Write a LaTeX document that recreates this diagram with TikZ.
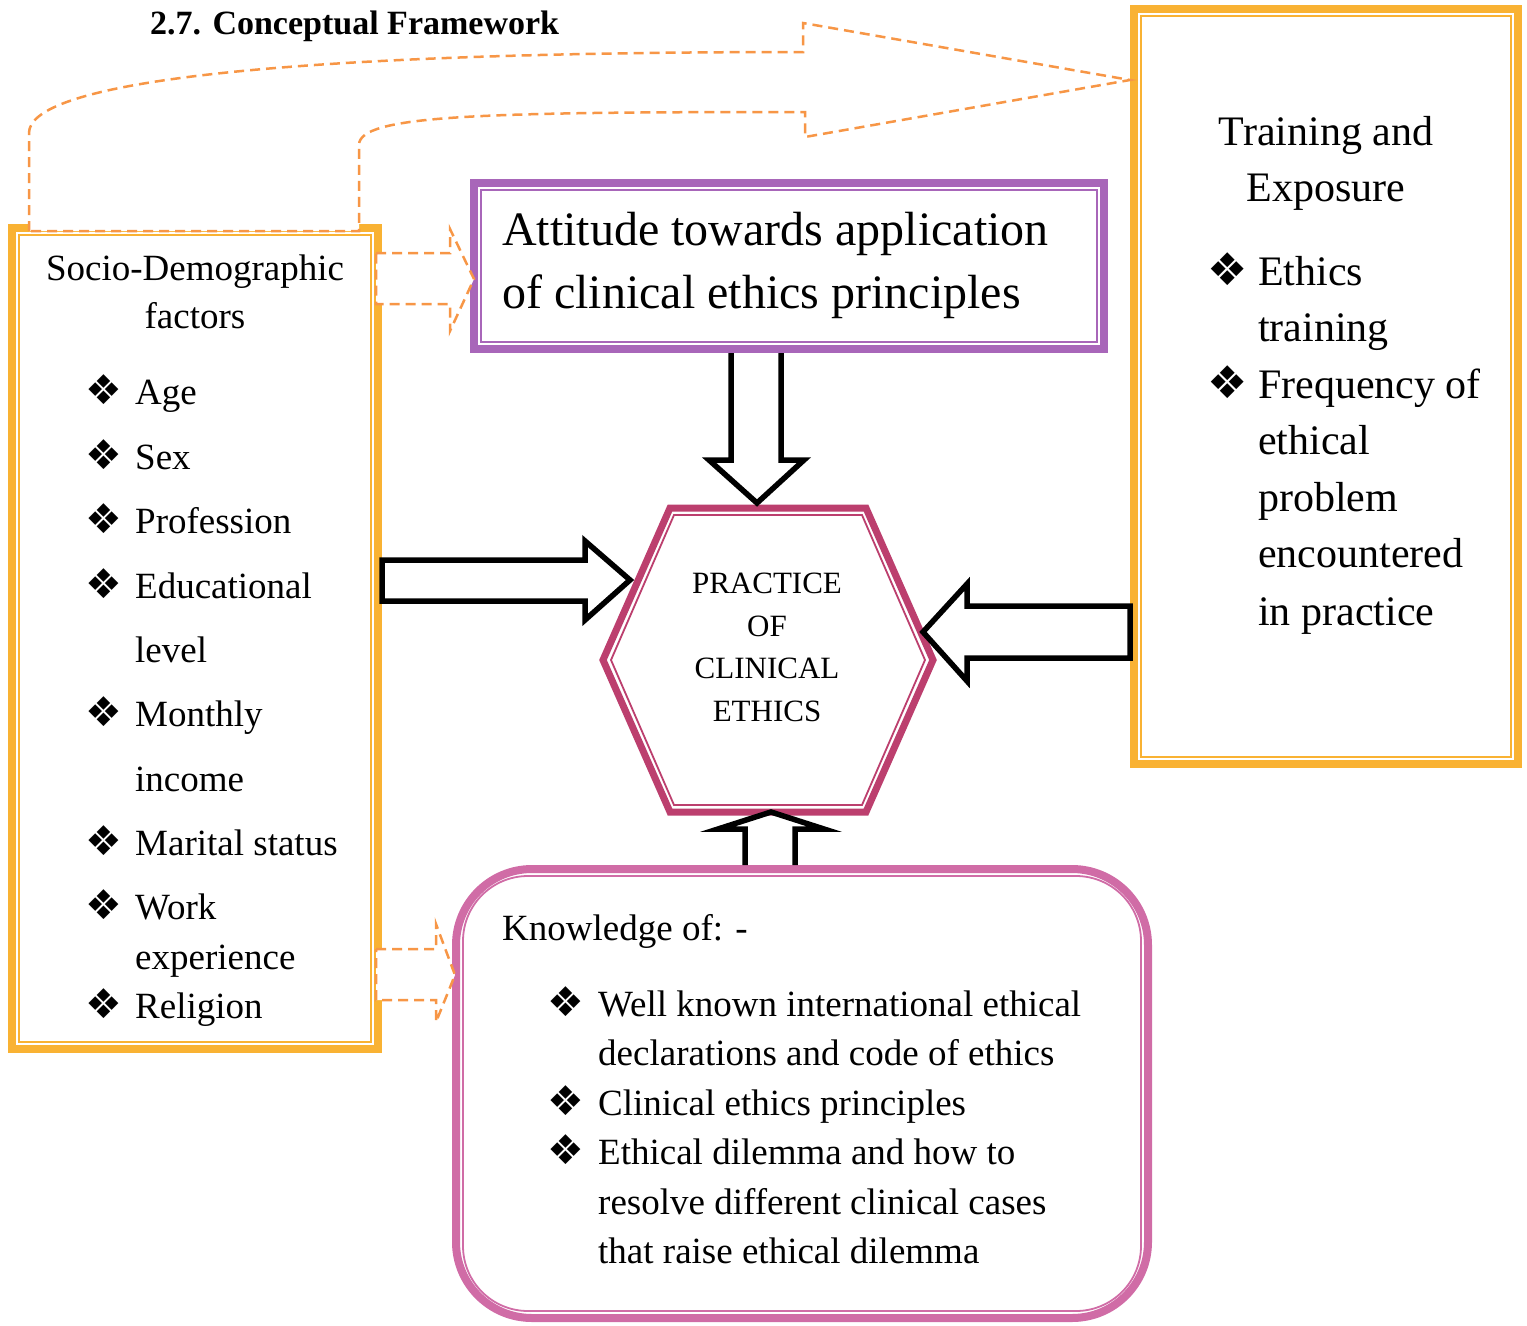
\documentclass[tikz,border=0pt]{standalone}
\usepackage{fontspec}
\setmainfont{Liberation Serif}
\newfontfamily\symfont{DejaVu Sans}
\usepackage{tikz}
\usetikzlibrary{calc}
\definecolor{boxorange}{HTML}{F9B233}
\definecolor{dashorange}{HTML}{F79646}
\definecolor{attpurple}{HTML}{A866B9}
\definecolor{hexrose}{HTML}{BC3F6E}
\definecolor{knowpink}{HTML}{D06CA6}
\newcommand{\sdfont}{\fontsize{37}{44}\selectfont}
\newcommand{\trfont}{\fontsize{42}{50}\selectfont}
\newcommand{\atfont}{\fontsize{48}{58}\selectfont}
\newcommand{\hxfont}{\fontsize{31}{42.5}\selectfont}
\newcommand{\ttlfont}{\fontsize{34}{40}\selectfont\bfseries}
\newcommand{\dmd}[1]{{\symfont\fontsize{#1}{#1}\selectfont ❖}}

\begin{document}
\begin{tikzpicture}[x=1pt, y=-1pt, every node/.style={inner sep=0pt},
  outerframe/.style={draw=#1, line width=8pt, fill=white},
  thinframe/.style={draw=#1, line width=1.8pt},
  blockarrow/.style={draw=black, line width=5.5pt},
  dasharrow/.style={draw=dashorange, line width=2.5pt, dash pattern=on 10pt off 6pt, fill=white},
  txt/.style={anchor=base west}]
  \useasboundingbox (0,0) rectangle (1527,1326);

  % the four boxes
  \node[outerframe=boxorange, minimum width=366pt, minimum height=821pt] (soc) at (195,638.5) {};
  \node[outerframe=attpurple, minimum width=630pt, minimum height=166pt] (att) at (789,266) {};
  \node[outerframe=boxorange, minimum width=384pt, minimum height=755pt] (trn) at (1326,386.5) {};
  \node[outerframe=knowpink, rounded corners=76pt, minimum width=692pt, minimum height=449pt] (knw) at (802,1093.5) {};
  \foreach \n/\c in {soc/boxorange, att/attpurple, trn/boxorange}{
    \draw[thinframe=\c] ($(\n.north west)+(11,11)$) rectangle ($(\n.south east)+(-11,-11)$);
  }
  \draw[thinframe=knowpink, rounded corners=65pt] ($(knw.north west)+(11,11)$) rectangle ($(knw.south east)+(-11,-11)$);

  % hexagon
  \draw[hexrose, line width=7pt, fill=white] (603,660) -- (670,508) -- (866,508) -- (933,660) -- (866,812) -- (670,812) -- cycle;
  \draw[hexrose, line width=1.8pt] (611,660) -- (674,515) -- (862,515) -- (925,660) -- (862,805) -- (674,805) -- cycle;
  \node[align=center, font=\hxfont] (hex) at (767,647.5) {PRACTICE\\OF\\CLINICAL\\ETHICS};

  % texts
  \node[anchor=base] (sdh1) at (195,280) {\sdfont Socio-Demographic};
  \node[anchor=base] (sdh2) at (195,328) {\sdfont factors};
  \foreach \y/\b/\lbl [count=\i] in {404/1/Age, 469/1/Sex, 533/1/Profession, 598/1/Educational, 662/0/level,
      726/1/Monthly, 791/0/income, 855/1/Marital status, 919/1/Work, 969/0/experience, 1018/1/Religion}{
    \node[txt] (sd\i) at (135,\y) {\sdfont \lbl};
    \ifnum\b=1 \node[anchor=base] (sdb\i) at (104,\y) {\dmd{41}}; \fi
  }
  \node[txt] (at1) at (502,245) {\atfont Attitude towards application};
  \node[txt] (at2) at (502,308) {\atfont of clinical ethics principles};
  \node[anchor=base] (trh1) at (1326,145) {\trfont Training and};
  \node[anchor=base] (trh2) at (1326,201) {\trfont Exposure};
  \foreach \y/\b/\lbl [count=\i] in {285/1/Ethics, 341/0/training, 398/1/Frequency of, 454/0/ethical,
      511/0/problem, 567/0/encountered, 625/0/in practice}{
    \node[txt] (tr\i) at (1258,\y) {\trfont \lbl};
    \ifnum\b=1 \node[anchor=base] (trb\i) at (1228,\y) {\dmd{45}}; \fi
  }
  \node[txt] (kw0) at (502,940) {\sdfont Knowledge of: -};
  \foreach \y/\b/\lbl [count=\i] in {1016/1/Well known international ethical, 1065/0/declarations and code of ethics,
      1115/1/Clinical ethics principles, 1164/1/Ethical dilemma and how to,
      1214/0/resolve different clinical cases, 1263/0/that raise ethical dilemma}{
    \node[txt] (kw\i) at (598,\y) {\sdfont \lbl};
    \ifnum\b=1 \node[anchor=base] (kwb\i) at (566,\y) {\dmd{41}}; \fi
  }

  % block arrows into the hexagon
  \draw[blockarrow] (731,0 |- att.south) -- (731,460) -- (709,460) -- (757,503) -- (804,460) -- (781,460) -- (781,0 |- att.south);
  \draw[blockarrow] (soc.east |- 0,560) -- (585,560) -- (585,541) -- (630,580) -- (585,620) -- (585,601) -- (soc.east |- 0,601) -- cycle;
  \draw[blockarrow] (trn.west |- 0,606) -- (967,606) -- (967,584) -- (923,632) -- (967,681) -- (967,658) -- (trn.west |- 0,658) -- cycle;
  \draw[blockarrow] (745,0 |- knw.north) -- (745,829) -- (718,829) -- (771,812) -- (824,829) -- (795,829) -- (795,0 |- knw.north);

  % dashed arrows out of the socio-demographic box
  \draw[dasharrow] ($(soc.east |- 0,253)+(-6,0)$) -- (450,253) -- (450,229) -- (474,279) -- (450,331) -- (450,304) -- ($(soc.east |- 0,304)+(-6,0)$) -- cycle;
  \draw[dasharrow] ($(soc.east |- 0,949)+(-6,0)$) -- (436,949) -- (436,924) -- (455,975) -- (436,1022) -- (436,1000) -- ($(soc.east |- 0,1000)+(-6,0)$) -- cycle;
  \draw[dasharrow] ($(soc.north -| 29,0)+(0,7)$) -- (29,133) .. controls (29,85) and (250,52) .. (803,52) -- (803,23) -- (trn.west |- 0,80)
    -- (805,137) -- (805,112) .. controls (480,112) and (359,115) .. (359,145) -- ($(soc.north -| 359,0)+(0,7)$) -- cycle;

  \node[txt] (title) at (150,34) {\ttlfont 2.7. Conceptual Framework};
\end{tikzpicture}
\end{document}
